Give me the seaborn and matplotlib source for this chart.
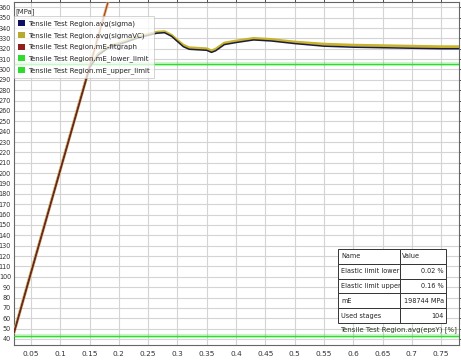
import matplotlib
matplotlib.use("Agg")
import matplotlib.pyplot as plt
from matplotlib.patches import Patch
from matplotlib import font_manager
import seaborn as sns
import pandas as pd
import numpy as np

# ---- data ----
eps = [0.021, 0.05, 0.10, 0.15, 0.165, 0.18, 0.19, 0.21, 0.23, 0.25, 0.265, 0.278,
       0.29, 0.30, 0.31, 0.32, 0.335, 0.35, 0.358, 0.365, 0.38, 0.40, 0.43, 0.46,
       0.50, 0.55, 0.60, 0.65, 0.70, 0.75, 0.78]
sigma = [46, 104, 203, 302, 314, 320, 322.5, 326, 330, 333, 335, 335.5,
         332, 327, 322, 319.5, 319, 318.5, 316.5, 318, 324, 326, 328.5, 327.5,
         325, 322.5, 321.5, 321, 320.5, 320, 320]
sigma_vc = [46.5, 104.5, 203.5, 302.5, 315, 321, 323.5, 327, 331, 334, 336, 336.5,
            333, 328, 323.5, 321, 320.5, 320, 318, 319.5, 325.5, 327.5, 330, 329,
            326.5, 324.5, 323.5, 323, 322.5, 322, 322]
fit_eps = [0.021, 0.19]
fit_sigma = [46, 382]
lower_limit = 42.9
upper_limit = 305.0

legend_labels = ["Tensile Test Region.avg(sigma)",
                 "Tensile Test Region.avg(sigmaVC)",
                 "Tensile Test Region.mE-fitgraph",
                 "Tensile Test Region.mE_lower_limit",
                 "Tensile Test Region.mE_upper_limit"]
table_rows = [["Name", "Value"],
              ["Elastic limit lower", "0.02 %"],
              ["Elastic limit upper", "0.16 %"],
              ["mE", "198744 MPa"],
              ["Used stages", "104"]]
x_ticks = [0.05, 0.1, 0.15, 0.2, 0.25, 0.3, 0.35, 0.4, 0.45, 0.5, 0.55, 0.6, 0.65, 0.7, 0.75]
x_tick_labels = ["0.05", "0.1", "0.15", "0.2", "0.25", "0.3", "0.35", "0.4", "0.45",
                 "0.5", "0.55", "0.6", "0.65", "0.7", "0.75"]
y_ticks = list(range(40, 361, 10))

# ---- styling ----
sns.set_theme(style="white")
names = {f.name for f in font_manager.fontManager.ttflist}
fams = [f for f in ["DejaVu Sans Condensed"] if f in names]
plt.rcParams['font.family'] = fams + ['DejaVu Sans']

c_sigma = "#1c1c3c"
c_vc = "#c8b42a"
c_fit = "#8a2a1a"
c_green = "#2edc2e"

fs = 5.0

fig = plt.figure(figsize=(4.61, 3.60), dpi=100)
ax = fig.add_axes([14/461, 15/360, 445/461, 343/360])

df = pd.DataFrame({"eps": eps, "sigma": sigma, "sigma_vc": sigma_vc})
dfit = pd.DataFrame({"eps": fit_eps, "sigma": fit_sigma})

for lvl in (lower_limit, upper_limit):
    ax.axhline(lvl, color=c_green, lw=3.0, alpha=0.25, zorder=2)
    ax.axhline(lvl, color=c_green, lw=0.9, zorder=3)

sns.lineplot(data=df, x="eps", y="sigma_vc", ax=ax, color=c_vc, lw=2.0, zorder=4)
sns.lineplot(data=dfit, x="eps", y="sigma", ax=ax, color="#e8b070", lw=2.0, zorder=4)
sns.lineplot(data=df, x="eps", y="sigma", ax=ax, color=c_sigma, lw=1.1, zorder=5)
sns.lineplot(data=dfit, x="eps", y="sigma", ax=ax, color=c_fit, lw=0.8, alpha=0.8, zorder=6)

ax.set_xlim(0.021, 0.7805)
ax.set_ylim(34.2, 365.1)
ax.set_xticks(x_ticks)
ax.set_xticklabels(x_tick_labels)
ax.set_yticks(y_ticks)
ax.set_yticklabels([str(v) for v in y_ticks])
ax.set_xlabel("")
ax.set_ylabel("")
ax.grid(True, color="#d4d4d4", lw=0.8)
ax.set_axisbelow(True)
ax.tick_params(axis="x", labelsize=5.3, colors="#333333", length=2.5, width=0.6,
               pad=1.5, direction="out", top=True)
ax.tick_params(axis="y", labelsize=4.7, colors="#333333", length=1.8, width=0.6,
               pad=0.4, direction="out", right=True)
for s in ax.spines.values():
    s.set_color("#666666")
    s.set_linewidth(0.8)

ax.text(0.003, 0.973, "[MPa]", transform=ax.transAxes, fontsize=fs,
        color="#333333", va="center", ha="left", zorder=10)
ax.text(0.995, 0.045, "Tensile Test Region.avg(epsY) [%]", transform=ax.transAxes,
        fontsize=fs, color="#2a3a20", ha="right", va="center", zorder=10)

handles = [Patch(facecolor=c, edgecolor="none") for c in
           ["#101060", "#b8aa30", "#902020", c_green, c_green]]
leg = ax.legend(handles, legend_labels, loc="upper left", bbox_to_anchor=(0.0, 0.96),
                fontsize=fs, frameon=True, fancybox=False, framealpha=0.75,
                edgecolor="#bbbbbb", handlelength=1.0, handleheight=1.0,
                handletextpad=0.5, borderpad=0.55, labelspacing=0.72,
                borderaxespad=0.0)
leg.get_frame().set_linewidth(0.6)
leg.set_zorder(7)

tbl = ax.table(cellText=table_rows, colWidths=[0.574, 0.426],
               bbox=[0.728, 0.064, 0.243, 0.216], zorder=10)
tbl.auto_set_font_size(False)
for (r, c), cell in tbl.get_celld().items():
    cell.set_fontsize(4.7)
    cell.set_edgecolor("#333333")
    cell.set_linewidth(0.7)
    cell.set_facecolor("white")
    cell.get_text().set_color("#222222")
    cell.PAD = 0.05
    if c == 1 and r > 0:
        cell.get_text().set_ha("right")
    else:
        cell.get_text().set_ha("left")

fig.savefig("out.png", dpi=100)
